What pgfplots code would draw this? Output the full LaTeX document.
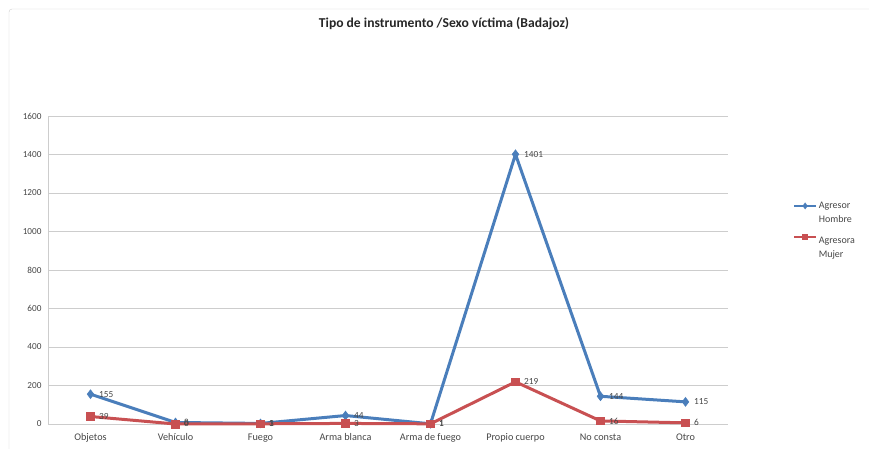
\documentclass[border=0pt]{standalone}
\usepackage{pgfplots}
\pgfplotsset{compat=1.18}
\usepackage{fontspec}
\setmainfont{Carlito}
\definecolor{cblue}{RGB}{74,126,187}
\definecolor{cred}{RGB}{200,80,82}
\definecolor{cgrid}{RGB}{205,205,205}
\definecolor{ctext}{RGB}{70,70,70}
\begin{document}
\begin{tikzpicture}
\useasboundingbox (0pt,0pt) rectangle (869pt,448pt);
\draw[cgrid, rounded corners=3pt] (9pt,-5pt) -- (9pt,439pt) -- (875pt,439pt);
\node[font=\bfseries\fontsize{13.6}{15}\selectfont, text=black!85] at (444pt,424pt) {Tipo de instrumento /Sexo víctima (Badajoz)};
\begin{axis}[
  at={(48pt,24pt)}, anchor=south west,
  scale only axis, width=680pt, height=308pt,
  xmin=-0.5, xmax=7.5, ymin=0, ymax=1600,
  xtick={0,...,7},
  xticklabels={Objetos,Vehículo,Fuego,Arma blanca,Arma de fuego,Propio cuerpo,No consta,Otro},
  ytick={0,200,...,1600},
  ymajorgrids, grid style={cgrid, line width=0.6pt},
  axis x line*=bottom, axis y line*=left,
  axis line style={cgrid, line width=0.6pt},
  x axis line style={-}, y axis line style={-},
  major tick length=3pt,
  xtick style={draw=none},
  ytick style={cgrid},
  tick label style={text=ctext},
  yticklabel style={font=\fontsize{9.2}{10}\selectfont, xshift=-3pt},
  xticklabel style={font=\fontsize{10.2}{11}\selectfont, yshift=-6pt},
  /pgf/number format/assume math mode=true,
  /pgf/number format/1000 sep={},
  clip=false,
  legend style={at={(1.096,0.728)}, anchor=north west, draw=none, fill=none,
     text=ctext, row sep=1.5pt, inner sep=0pt, font=\fontsize{10}{12}\selectfont},
  legend cell align=left,
  legend image code/.code={
    \draw[#1, mark repeat=2, mark phase=2] plot coordinates {(0pt,0pt) (11pt,0pt) (22pt,0pt)};},
  legend image post style={line width=1.3pt, mark size=2.4pt},
  nodes near coords,
  every node near coord/.append style={font=\fontsize{9.3}{10}\selectfont, text=ctext, anchor=west, xshift=5pt},
]
\addlegendimage{color=cblue, mark=diamond*}
\addlegendentry{Agresor}
\addlegendimage{empty legend}
\addlegendentry{Hombre}
\addlegendimage{color=cred, mark=square*}
\addlegendentry{\rule{0pt}{14pt}Agresora}
\addlegendimage{empty legend}
\addlegendentry{Mujer}
\addplot[forget plot, color=cblue, line width=3pt, mark=diamond*, mark size=4.4pt, mark options={line width=0.6pt}] coordinates {
(0,155) (1,8) (2,3) (3,44) (4,1) (5,1401) (6,144) (7,115)};
\addplot[forget plot, color=cred, line width=3pt, mark=square*, mark size=3.8pt, mark options={line width=0.6pt}] coordinates {
(0,39) (1,0) (2,1) (3,3) (4,1) (5,219) (6,16) (7,6)};
\end{axis}
\end{tikzpicture}
\end{document}
